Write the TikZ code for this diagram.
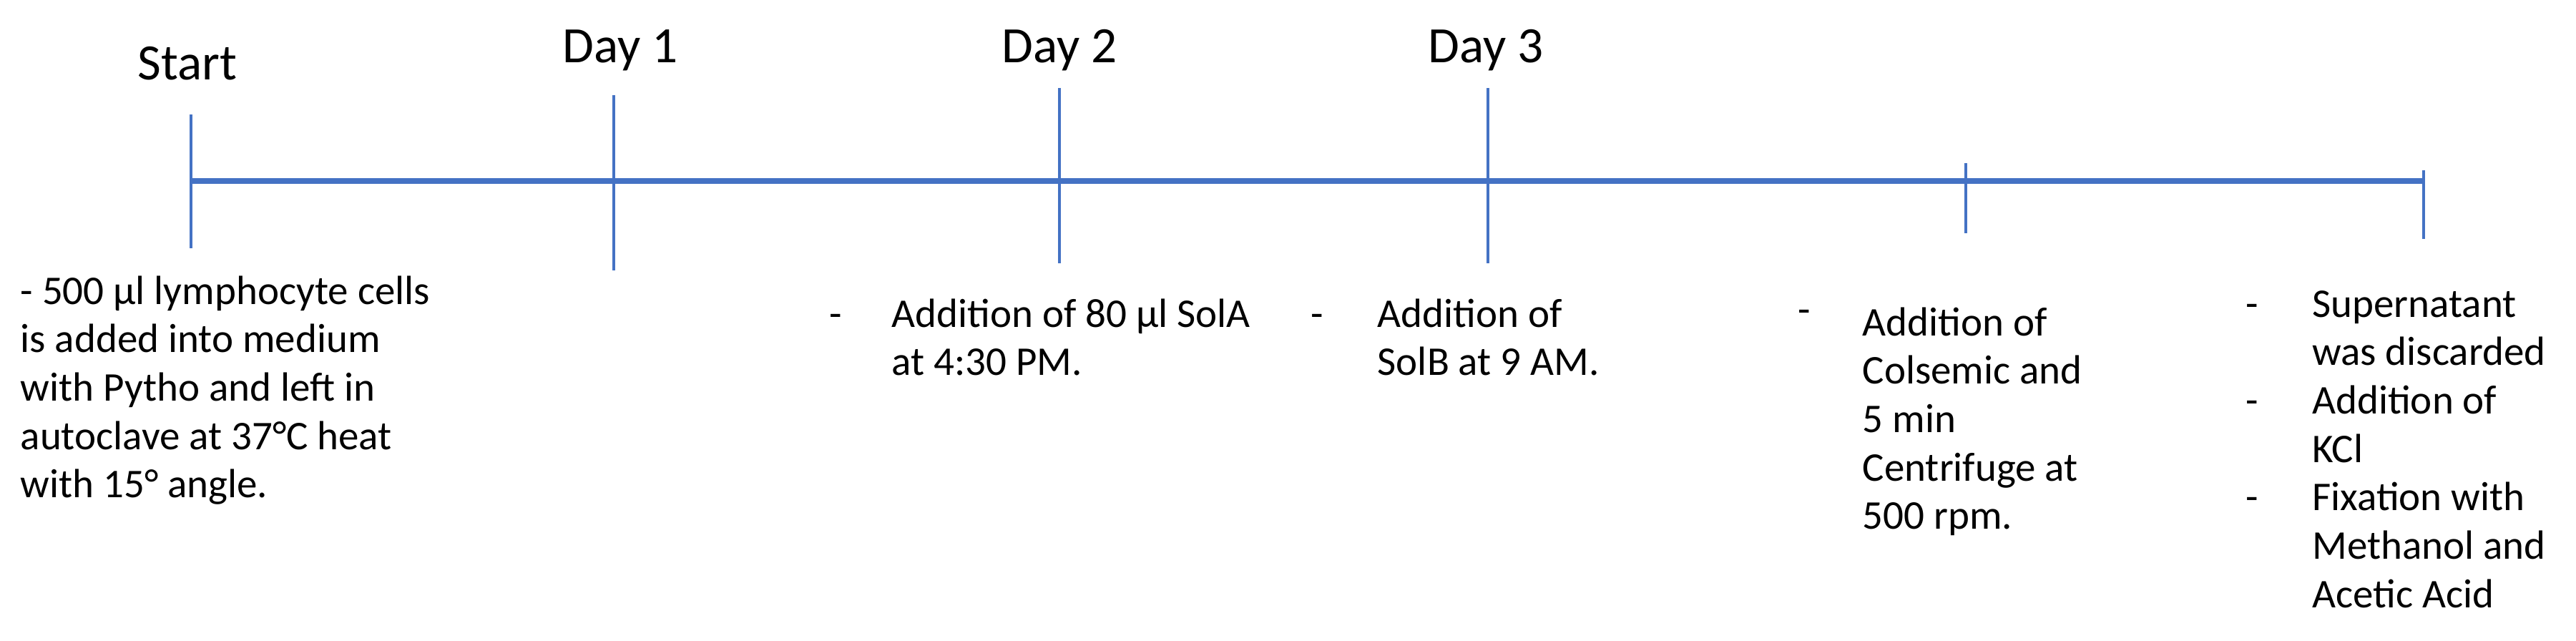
\documentclass[tikz,border=0pt]{standalone}
\usepackage{fontspec}
\setmainfont{Carlito}
\definecolor{tlblue}{HTML}{4472C4}
\tikzset{
  timeline/.style={draw=tlblue,line width=2.4pt},
  daytick/.style={draw=tlblue,line width=1.3pt},
  daylabel/.style={anchor=base,inner sep=0pt,font=\fontsize{20}{24}\selectfont},
  note/.style={anchor=base west,inner sep=0pt,font=\fontsize{16}{19}\selectfont},
}
\begin{document}
\begin{tikzpicture}[x=28.07pt,y=28.07pt]
\useasboundingbox (0,0) rectangle (36.01,8.95);
% time axis and ticks
\draw[timeline] (2.67,6.42) -- (33.88,6.42);
\draw[daytick] (2.67,7.35) -- (2.67,5.48);
\draw[daytick] (8.58,7.62) -- (8.58,5.17);
\draw[daytick] (14.81,7.72) -- (14.81,5.27);
\draw[daytick] (20.80,7.72) -- (20.80,5.27);
\draw[daytick] (27.48,6.67) -- (27.48,5.69);
\draw[daytick] (33.88,6.57) -- (33.88,5.61);
% day labels
\node[daylabel] (start) at (2.62,7.83) {Start};
\node[daylabel] (day1) at (8.67,8.07) {Day 1};
\node[daylabel] (day2) at (14.81,8.07) {Day 2};
\node[daylabel] (day3) at (20.77,8.07) {Day 3};
% notes
\node[note] (cells) at (0.28,4.70) {\begin{tabular}[t]{@{}l@{}}
- 500 µl lymphocyte cells\\
is added into medium\\
with Pytho and left in\\
autoclave at 37°C heat\\
with 15° angle.\end{tabular}};
\node[note] (dashA) at (11.59,4.38) {-};
\node[note] (solA) at (12.46,4.38) {\begin{tabular}[t]{@{}l@{}}
Addition of 80 µl SolA\\
at 4:30 PM.\end{tabular}};
\node[note] (dashB) at (18.32,4.38) {-};
\node[note] (solB) at (19.25,4.38) {\begin{tabular}[t]{@{}l@{}}
Addition of\\
SolB at 9 AM.\end{tabular}};
\node[note] (dashC) at (25.13,4.44) {-};
\node[note] (colsemic) at (26.03,4.26) {\begin{tabular}[t]{@{}l@{}}
Addition of\\
Colsemic and\\
5 min\\
Centrifuge at\\
500 rpm.\end{tabular}};
\node[note] (fixation) at (31.39,4.52) {\begin{tabular}[t]{@{}p{26pt}@{}l@{}}
- & Supernatant\\
  & was discarded\\
- & Addition of\\
  & KCl\\
- & Fixation with\\
  & Methanol and\\
  & Acetic Acid\end{tabular}};
\end{tikzpicture}
\end{document}
